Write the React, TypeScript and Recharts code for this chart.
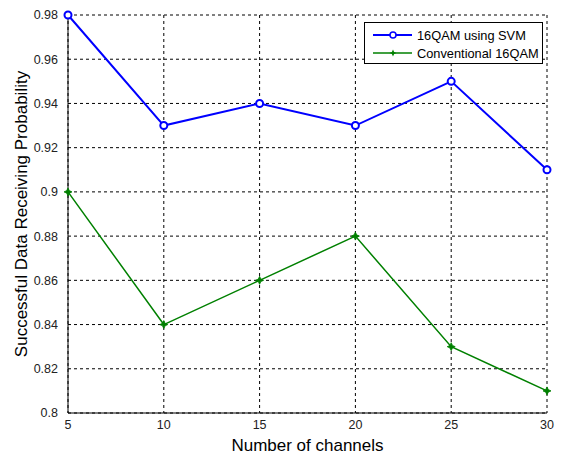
import React from "react";
import {
  LineChart,
  Line,
  XAxis,
  YAxis,
  CartesianGrid,
} from "recharts";

const channels = [5, 10, 15, 20, 25, 30];
const svmValues = [0.98, 0.93, 0.94, 0.93, 0.95, 0.91];
const conventionalValues = [0.9, 0.84, 0.86, 0.88, 0.83, 0.81];
const xTicks = [5, 10, 15, 20, 25, 30];
const yTicks = [0.8, 0.82, 0.84, 0.86, 0.88, 0.9, 0.92, 0.94, 0.96, 0.98];

const data = channels.map((c, i) => ({
  channels: c,
  svm: svmValues[i],
  conventional: conventionalValues[i],
}));

const FONT = "'Liberation Sans', Arial, sans-serif";
const BLUE = "#0000ff";
const GREEN = "#008000";

const CircleDot = (props: any) => {
  const { cx, cy } = props;
  if (cx == null || cy == null) return null;
  return <circle cx={cx} cy={cy} r={3.5} fill="#fff" stroke={BLUE} strokeWidth={2} />;
};

const starPath = (cx: number, cy: number, r: number) => {
  const pts: string[] = [];
  for (let i = 0; i < 8; i++) {
    const a = (Math.PI / 4) * i - Math.PI / 2;
    const rr = i % 2 === 0 ? r : r * 0.45;
    pts.push(`${cx + rr * Math.cos(a)},${cy + rr * Math.sin(a)}`);
  }
  return "M" + pts.join("L") + "Z";
};

const StarDot = (props: any) => {
  const { cx, cy } = props;
  if (cx == null || cy == null) return null;
  return <path d={starPath(cx, cy, 4)} fill={GREEN} stroke={GREEN} strokeWidth={0.8} />;
};

const LegendBox = () => (
  <div
    style={{
      position: "absolute",
      left: 364,
      top: 22,
      border: "1px solid #000",
      background: "#fff",
      width: 177,
      height: 40,
    }}
  >
    <svg width={177} height={40} style={{ display: "block" }}>
      <line x1={8} y1={12} x2={47} y2={12} stroke={BLUE} strokeWidth={2} />
      <circle cx={28} cy={12} r={3} fill="#fff" stroke={BLUE} strokeWidth={1.5} />
      <line x1={8} y1={30} x2={47} y2={30} stroke={GREEN} strokeWidth={1.5} />
      <path d={starPath(28, 30, 3.5)} fill={GREEN} />
      <text x={52} y={16.5} fontSize={12.8} fontFamily={FONT} fill="#000">
        16QAM using SVM
      </text>
      <text x={52} y={34.5} fontSize={12.8} fontFamily={FONT} fill="#000">
        Conventional 16QAM
      </text>
    </svg>
  </div>
);

const fmt = (v: number) => String(Number(v.toFixed(2)));

export default function App() {
  return (
    <div style={{ position: "absolute", left: 0, top: 0, background: "#fff", width: 563, height: 455 }}>
      <LineChart
        width={563}
        height={455}
        data={data}
        margin={{ top: 15, right: 16, left: 0, bottom: 0 }}
        style={{ fontFamily: FONT }}
      >
        <CartesianGrid stroke="#000" strokeDasharray="3 3" strokeWidth={1} />
        <XAxis
          dataKey="channels"
          type="number"
          domain={[5, 30]}
          ticks={xTicks}
          height={42}
          tickLine={false}
          tickMargin={1}
          axisLine={{ stroke: "#000", strokeWidth: 1 }}
          tick={{ fontSize: 12.5, fill: "#222", fontFamily: FONT }}
          label={{
            value: "Number of channels",
            position: "insideBottom",
            offset: 4,
            fontSize: 17,
            fill: "#000",
            fontFamily: FONT,
          }}
        />
        <XAxis
          xAxisId="top"
          dataKey="channels"
          type="number"
          domain={[5, 30]}
          orientation="top"
          height={0}
          tick={false}
          tickLine={false}
          axisLine={{ stroke: "#000", strokeWidth: 1 }}
        />
        <YAxis
          type="number"
          domain={[0.8, 0.98]}
          ticks={yTicks}
          width={68}
          tickLine={false}
          tickMargin={4}
          tickFormatter={fmt}
          axisLine={{ stroke: "#000", strokeWidth: 1 }}
          tick={{ fontSize: 12.5, fill: "#222", fontFamily: FONT }}
          label={{
            content: () => (
              <text
                x={21}
                y={214}
                transform="rotate(-90 21 214)"
                textAnchor="middle"
                dominantBaseline="central"
                fontSize={17}
                fontFamily={FONT}
                fill="#000"
              >
                Successful Data Receiving Probability
              </text>
            ),
          }}
        />
        <YAxis
          yAxisId="right"
          orientation="right"
          type="number"
          domain={[0.8, 0.98]}
          width={0}
          tick={false}
          tickLine={false}
          axisLine={{ stroke: "#000", strokeWidth: 1 }}
        />
        <Line
          type="linear"
          dataKey="svm"
          name="16QAM using SVM"
          stroke={BLUE}
          strokeWidth={2}
          dot={<CircleDot />}
          activeDot={false}
          isAnimationActive={false}
        />
        <Line
          type="linear"
          dataKey="conventional"
          name="Conventional 16QAM"
          stroke={GREEN}
          strokeWidth={1.5}
          dot={<StarDot />}
          activeDot={false}
          isAnimationActive={false}
        />
      </LineChart>
      <LegendBox />
    </div>
  );
}
